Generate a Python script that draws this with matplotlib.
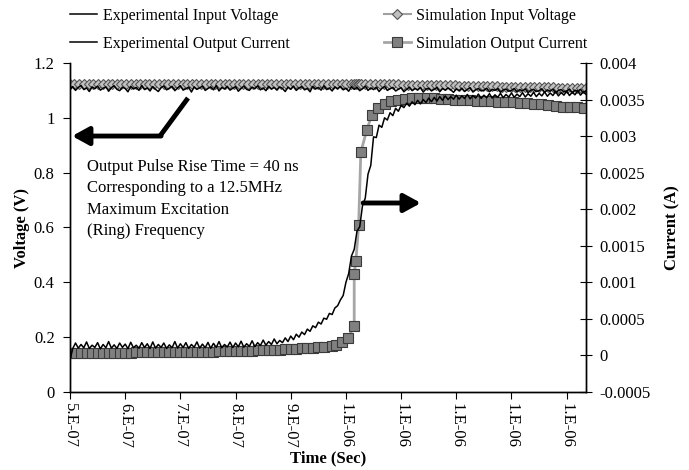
"""Pulse rise: experimental vs simulated input voltage and output current"""
import numpy as np
import matplotlib
matplotlib.use('Agg')
import matplotlib.pyplot as plt
from matplotlib.ticker import FuncFormatter, MultipleLocator

plt.rcParams['font.family'] = ['Liberation Serif', 'DejaVu Serif']

# experimental scope traces, 5 ns sample spacing from 500 ns
T_EXP_NS = np.arange(500, 1441, 5)
EXP_V_MV = [
    1104, 1114, 1100, 1111, 1118, 1103, 1109, 1096, 1113, 1106,
    1116, 1101, 1108, 1113, 1097, 1110, 1117, 1104, 1099, 1112,
    1107, 1095, 1115, 1105, 1111, 1100, 1118, 1103, 1109, 1098,
    1114, 1104, 1096, 1110, 1116, 1102, 1108, 1115, 1099, 1109,
    1117, 1101, 1106, 1112, 1094, 1113, 1104, 1109, 1116, 1100,
    1107, 1113, 1102, 1118, 1098, 1111, 1105, 1115, 1101, 1108,
    1114, 1097, 1107, 1116, 1104, 1100, 1112, 1106, 1117, 1102,
    1109, 1099, 1115, 1105, 1111, 1101, 1113, 1107, 1096, 1112,
    1104, 1116, 1100, 1109, 1114, 1102, 1107, 1095, 1115, 1105,
    1111, 1101, 1117, 1103, 1109, 1098, 1113, 1106, 1115, 1102,
    1108, 1097, 1114, 1104, 1111, 1099, 1106, 1116, 1100, 1109,
    1103, 1112, 1096, 1107, 1115, 1100, 1106, 1111, 1098, 1104,
    1110, 1095, 1104, 1112, 1099, 1107, 1102, 1111, 1094, 1105,
    1108, 1098, 1104, 1111, 1095, 1107, 1101, 1109, 1102, 1093,
    1106, 1099, 1108, 1096, 1104, 1110, 1094, 1102, 1107, 1098,
    1101, 1108, 1095, 1104, 1100, 1107, 1093, 1102, 1105, 1097,
    1100, 1107, 1094, 1103, 1098, 1106, 1092, 1101, 1104, 1096,
    1099, 1106, 1093, 1102, 1097, 1105, 1091, 1100, 1103, 1095,
    1098, 1105, 1092, 1101, 1096, 1104, 1091, 1099, 1094,
]
EXP_I_UA = [
    -60, 95, 170, 100, 150, 105, 185, 95, 140, 110,
    175, 90, 150, 105, 190, 100, 145, 95, 170, 110,
    155, 92, 180, 105, 140, 98, 175, 108, 160, 95,
    185, 100, 150, 110, 170, 95, 145, 105, 190, 100,
    160, 108, 175, 96, 150, 112, 185, 100, 155, 106,
    178, 98, 165, 110, 190, 104, 150, 115, 182, 108,
    170, 118, 195, 112, 160, 125, 200, 120, 175, 135,
    210, 140, 190, 150, 225, 160, 205, 175, 240, 190,
    265, 215, 290, 250, 320, 285, 360, 330, 405, 380,
    455, 430, 510, 495, 575, 560, 650, 680, 760, 820,
    1000, 1120, 1360, 1450, 1700, 1760, 2050, 2150, 2480, 2600,
    2990, 2980, 3150, 3120, 3250, 3220, 3320, 3280, 3380, 3340,
    3420, 3390, 3450, 3410, 3470, 3430, 3490, 3440, 3500, 3460,
    3520, 3470, 3530, 3480, 3540, 3490, 3550, 3500, 3540, 3505,
    3560, 3505, 3550, 3515, 3570, 3510, 3555, 3520, 3575, 3515,
    3560, 3525, 3580, 3520, 3565, 3530, 3585, 3525, 3570, 3535,
    3590, 3530, 3575, 3540, 3595, 3535, 3580, 3545, 3600, 3540,
    3585, 3550, 3605, 3545, 3590, 3555, 3610, 3550, 3595, 3560,
    3615, 3555, 3600, 3565, 3620, 3560, 3605, 3570, 3590,
]

# simulation output (variable time step)
SIM_V_T_NS = [
    500, 508, 517, 525, 534, 542, 551, 559, 568, 576,
    585, 593, 602, 610, 619, 627, 636, 644, 653, 661,
    670, 678, 687, 695, 704, 712, 721, 729, 738, 746,
    755, 763, 772, 780, 789, 797, 806, 814, 823, 831,
    840, 848, 857, 865, 874, 882, 891, 899, 908, 916,
    925, 933, 942, 950, 959, 967, 976, 984, 993, 1001,
    1010, 1015, 1018, 1021, 1023, 1027,
    1035, 1044, 1052, 1061, 1069, 1078, 1086, 1095, 1103, 1112,
    1120, 1129, 1137, 1146, 1154, 1163, 1171, 1180, 1188, 1197,
    1205, 1214, 1222, 1231, 1239, 1248, 1256, 1265, 1273, 1282,
    1290, 1299, 1307, 1316, 1324, 1333, 1341, 1350, 1358, 1367,
    1375, 1384, 1392, 1401, 1409, 1418, 1426, 1435,
]
SIM_V_MV = [
    1124, 1124, 1124, 1124, 1124, 1124, 1124, 1124, 1124, 1124,
    1124, 1124, 1124, 1124, 1124, 1124, 1124, 1124, 1124, 1124,
    1124, 1124, 1124, 1124, 1124, 1124, 1124, 1124, 1124, 1124,
    1124, 1124, 1124, 1124, 1124, 1124, 1124, 1124, 1124, 1124,
    1124, 1124, 1124, 1124, 1124, 1124, 1124, 1124, 1124, 1124,
    1124, 1124, 1124, 1124, 1124, 1124, 1124, 1124, 1124, 1124,
    1124, 1125, 1125, 1124, 1124, 1124,
    1124, 1124, 1123, 1123, 1123, 1122, 1122, 1122, 1121, 1121,
    1121, 1120, 1120, 1120, 1119, 1119, 1119, 1118, 1118, 1118,
    1117, 1117, 1117, 1116, 1116, 1116, 1115, 1115, 1115, 1114,
    1114, 1114, 1113, 1113, 1113, 1112, 1112, 1112, 1111, 1111,
    1111, 1110, 1110, 1110, 1109, 1109, 1108, 1108,
]
SIM_I_T_NS = [
    500, 510, 520, 530, 540, 550, 560, 570, 580, 590,
    600, 610, 620, 630, 640, 650, 660, 670, 680, 690,
    700, 710, 720, 730, 740, 750, 760, 770, 780, 790,
    800, 810, 820, 830, 840, 850, 860, 870, 880, 890,
    900, 910, 920, 930, 940, 950, 960, 974, 982, 992,
    1004, 1015, 1015, 1018, 1023, 1027, 1038, 1047, 1059, 1070,
    1081, 1094, 1107, 1120, 1133, 1146, 1159, 1172, 1185, 1198,
    1211, 1224, 1237, 1250, 1263, 1276, 1289, 1302, 1315, 1328,
    1341, 1354, 1367, 1380, 1393, 1406, 1419, 1432,
]
SIM_I_UA = [
    36, 36, 37, 37, 37, 38, 38, 38, 39, 39,
    40, 40, 41, 41, 42, 42, 43, 44, 45, 46,
    47, 48, 49, 50, 51, 52, 53, 55, 57, 59,
    61, 63, 65, 67, 69, 71, 73, 76, 80, 84,
    88, 92, 97, 102, 107, 112, 118, 127, 140, 180,
    245, 400, 1120, 1290, 1780, 2780, 3090, 3290, 3380, 3440,
    3480, 3500, 3510, 3520, 3520, 3520, 3515, 3510, 3505, 3500,
    3495, 3490, 3485, 3480, 3475, 3470, 3465, 3460, 3455, 3450,
    3445, 3440, 3430, 3415, 3405, 3400, 3395, 3390,
]

NOTE = ('Output Pulse Rise Time = 40 ns\n'
        'Corresponding to a 12.5MHz\n'
        'Maximum Excitation\n'
        '(Ring) Frequency')

W, H = 689, 470
fig = plt.figure(figsize=(W / 100, H / 100), dpi=100)
ax = fig.add_axes([70 / W, 1 - 392 / H, (586 - 70) / W, (392 - 63) / H])
ax2 = ax.twinx()

t_exp = T_EXP_NS * 1e-9
l_ev, = ax.plot(t_exp, np.array(EXP_V_MV) / 1000, color='black', lw=1.1, zorder=3)
l_sv, = ax.plot(np.array(SIM_V_T_NS) * 1e-9, np.array(SIM_V_MV) / 1000,
                color='#a0a0a0', lw=1.5, marker='D', ms=5.5,
                mfc='#c0c0c0', mec='#555555', mew=0.8, zorder=2)
l_ei, = ax2.plot(t_exp, np.array(EXP_I_UA) * 1e-6, color='black', lw=1.1, zorder=3)
l_si, = ax2.plot(np.array(SIM_I_T_NS) * 1e-9, np.array(SIM_I_UA) * 1e-6,
                 color='#a6a6a6', lw=2.0, marker='s', ms=6.5,
                 mfc='#808080', mec='#3a3a3a', mew=0.8, zorder=2)

ax.set_xlim(5e-7, 1.435e-6)
ax.set_ylim(0, 1.2)
ax2.set_ylim(-0.0005, 0.004)
ax.xaxis.set_major_locator(MultipleLocator(1e-7))
ax.yaxis.set_major_locator(MultipleLocator(0.2))
ax2.yaxis.set_major_locator(MultipleLocator(0.0005))


def sci_fmt(v, pos):
    s = f'{v:.0E}'
    return s[0] + '.' + s[1:]


ax.xaxis.set_major_formatter(FuncFormatter(sci_fmt))
ax.yaxis.set_major_formatter(FuncFormatter(lambda v, p: f'{v:g}'))
ax2.yaxis.set_major_formatter(FuncFormatter(lambda v, p: f'{round(v, 5):g}'))

for a in (ax, ax2):
    a.spines['top'].set_visible(False)
    for s in a.spines.values():
        s.set_linewidth(1.0)
ax.tick_params(axis='x', direction='out', length=5, labelrotation=-90, labelsize=12, pad=3)
ax.tick_params(axis='y', direction='out', length=5, labelsize=12, pad=6)
ax2.tick_params(axis='y', direction='inout', length=9, labelsize=12, pad=5)

ax.set_xlabel('Time (Sec)', fontsize=12, fontweight='bold', labelpad=2)
ax.set_ylabel('Voltage (V)', fontsize=12, fontweight='bold', labelpad=3)
ax2.set_ylabel('Current (A)', fontsize=12, fontweight='bold', labelpad=10)

# arrows pointing to the axis each trace belongs to
ax.plot([0.2287, 0.1744], [0.8936, 0.778], transform=ax.transAxes,
        color='black', lw=3.5, solid_capstyle='butt', zorder=5)
ax.annotate('', xy=(0.004, 0.778), xytext=(0.1765, 0.778),
            xycoords='axes fraction', textcoords='axes fraction',
            arrowprops=dict(arrowstyle='-|>,head_length=1.0,head_width=0.55',
                            lw=3.5, color='black', shrinkA=0, shrinkB=0),
            zorder=5)
ax.annotate('', xy=(0.680, 0.5745), xytext=(0.568, 0.5745),
            xycoords='axes fraction', textcoords='axes fraction',
            arrowprops=dict(arrowstyle='-|>,head_length=1.0,head_width=0.55',
                            lw=3.5, color='black', shrinkA=0, shrinkB=0),
            zorder=5)

ax.text(0.0335, 0.708, NOTE, transform=ax.transAxes, fontsize=12,
        va='top', ha='left', linespacing=1.45)

fig.legend([l_ev, l_ei, l_sv, l_si],
           ['Experimental Input Voltage', 'Experimental Output Current',
            'Simulation Input Voltage', 'Simulation Output Current'],
           loc='upper left', bbox_to_anchor=(70 / W, 0.983), ncol=2,
           frameon=False, fontsize=11.5, borderpad=0, borderaxespad=0,
           handlelength=1.7, handletextpad=0.35, columnspacing=5.9,
           labelspacing=0.75)

fig.savefig('out.png', dpi=100)
